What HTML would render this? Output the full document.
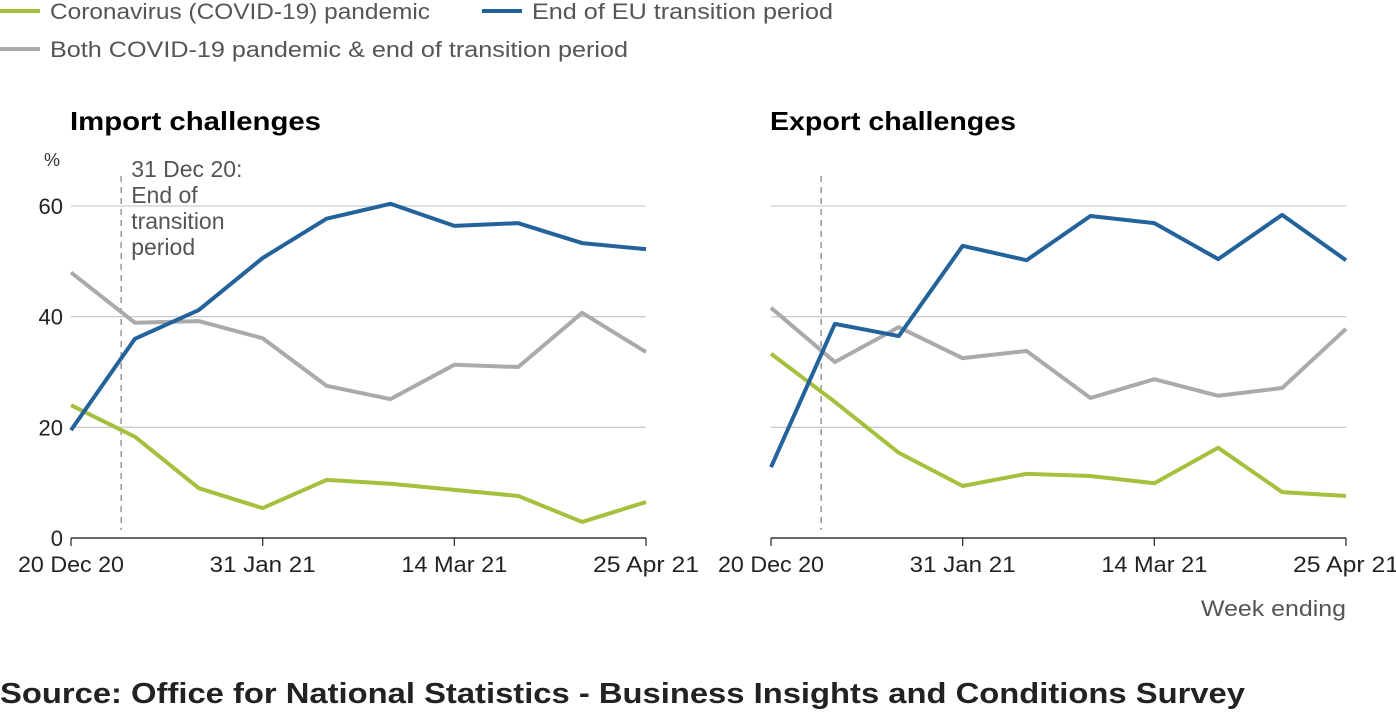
<!DOCTYPE html>
<html><head><meta charset="utf-8">
<style>
body{margin:0;background:#fff;width:1396px;height:712px;overflow:hidden;font-family:"Liberation Sans",sans-serif;}
svg text{font-family:"Liberation Sans",sans-serif;}
</style></head>
<body>
<svg id="chart" width="1396" height="712">
  <g>
    <line x1="0" y1="11" x2="40" y2="11" stroke="#a5c03c" stroke-width="4"/>
    <text x="50" y="19" font-size="22" fill="#555" textLength="380" lengthAdjust="spacingAndGlyphs">Coronavirus (COVID-19) pandemic</text>
    <line x1="482" y1="11" x2="522" y2="11" stroke="#23629a" stroke-width="4"/>
    <text x="532" y="19" font-size="22" fill="#555" textLength="301" lengthAdjust="spacingAndGlyphs">End of EU transition period</text>
    <line x1="0" y1="49" x2="40" y2="49" stroke="#aaaaaa" stroke-width="4"/>
    <text x="50" y="57" font-size="22" fill="#555" textLength="578" lengthAdjust="spacingAndGlyphs">Both COVID-19 pandemic &amp; end of transition period</text>
  </g>
  <text x="70" y="130" font-size="26" font-weight="bold" fill="#000" textLength="251" lengthAdjust="spacingAndGlyphs">Import challenges</text>
  <text x="770" y="130" font-size="26" font-weight="bold" fill="#000" textLength="246" lengthAdjust="spacingAndGlyphs">Export challenges</text>
  <text x="44" y="166" font-size="18" fill="#333">%</text>
  <g id="left"></g>
  <g id="right"></g>
  <text x="1346" y="616" font-size="22" fill="#555" text-anchor="end" textLength="145" lengthAdjust="spacingAndGlyphs">Week ending</text>
  <text x="0" y="703" font-size="29" font-weight="bold" fill="#222" textLength="1245" lengthAdjust="spacingAndGlyphs">Source: Office for National Statistics - Business Insights and Conditions Survey</text>
</svg>
<script>
const weeks = [0,2,4,6,8,10,12,14,16,18];
const yTicks = [0,20,40,60];
const xTickWeeks = [0,6,12,18];
const xTickLabels = ["20 Dec 20","31 Jan 21","14 Mar 21","25 Apr 21"];
const importEU = [19.5,36,41.2,50.6,57.7,60.4,56.4,56.9,53.3,52.2];
const importBoth = [48,38.9,39.2,36.1,27.5,25.1,31.3,30.9,40.7,33.6];
const importCovid = [24,18.3,9,5.4,10.5,9.8,8.7,7.6,2.9,6.5];
const exportEU = [12.8,38.7,36.5,52.8,50.2,58.2,56.9,50.4,58.4,50.2];
const exportBoth = [41.6,31.8,38.1,32.5,33.8,25.3,28.7,25.7,27.1,37.8];
const exportCovid = [33.3,24.6,15.4,9.4,11.6,11.2,9.9,16.3,8.3,7.6];
const markerWeek = 11/7;

const NS="http://www.w3.org/2000/svg";
function mk(p,tag,at){const e=document.createElementNS(NS,tag);for(const k in at)e.setAttribute(k,at[k]);p.appendChild(e);return e;}
function panel(g,x0,showY,prefix,eu,both,covid,note){
  const W=575, y0=538, yScale=v=>y0-v*(332/60), xs=w=>x0+w*W/18;
  yTicks.forEach(t=>{
    if(t>0){const l=mk(g,'line',{x1:x0,x2:x0+W,y1:yScale(t),y2:yScale(t),stroke:'#ccc','stroke-width':1.3});
      
      }
    if(showY){const tx=mk(g,'text',{x:x0-8,y:yScale(t)+8,'font-size':22,fill:'#222','text-anchor':'end'});tx.textContent=t;
      
      }
  });
  const ax=mk(g,'line',{x1:x0,x2:x0+W,y1:y0,y2:y0,stroke:'#333','stroke-width':1.5});
  
  
  xTickWeeks.forEach((w,i)=>{
    const t=mk(g,'line',{x1:xs(w),x2:xs(w),y1:y0,y2:y0+8,stroke:'#333','stroke-width':1.3});
    
    
    const tx=mk(g,'text',{x:xs(w),y:y0+34,'font-size':22,fill:'#222','text-anchor':'middle',textLength:106,lengthAdjust:'spacingAndGlyphs'});tx.textContent=xTickLabels[i];
    
    
  });
  const mx=xs(markerWeek);
  const d=mk(g,'line',{x1:mx,x2:mx,y1:176,y2:y0-8,stroke:'#999','stroke-width':1.5,'stroke-dasharray':'6,5'});
  
  
  if(note){["31 Dec 20:","End of","transition","period"].forEach((s,i)=>{
    const tx=mk(g,'text',{x:mx+10,y:177+i*26,'font-size':23,fill:'#555'});tx.textContent=s;
    
    });}
  [[both,'#aaaaaa','both'],[covid,'#a5c03c','covid'],[eu,'#23629a','eu']].forEach(([arr,c,n])=>{
    const pts=arr.map((v,i)=>xs(weeks[i])+','+yScale(v)).join(' ');
    const pl=mk(g,'polyline',{points:pts,fill:'none',stroke:c,'stroke-width':4,'stroke-linejoin':'round'});
    
    
  });
}
panel(document.getElementById('left'),71,true,'import',importEU,importBoth,importCovid,true);
panel(document.getElementById('right'),771,false,'export',exportEU,exportBoth,exportCovid,false);
</script>
</body></html>
